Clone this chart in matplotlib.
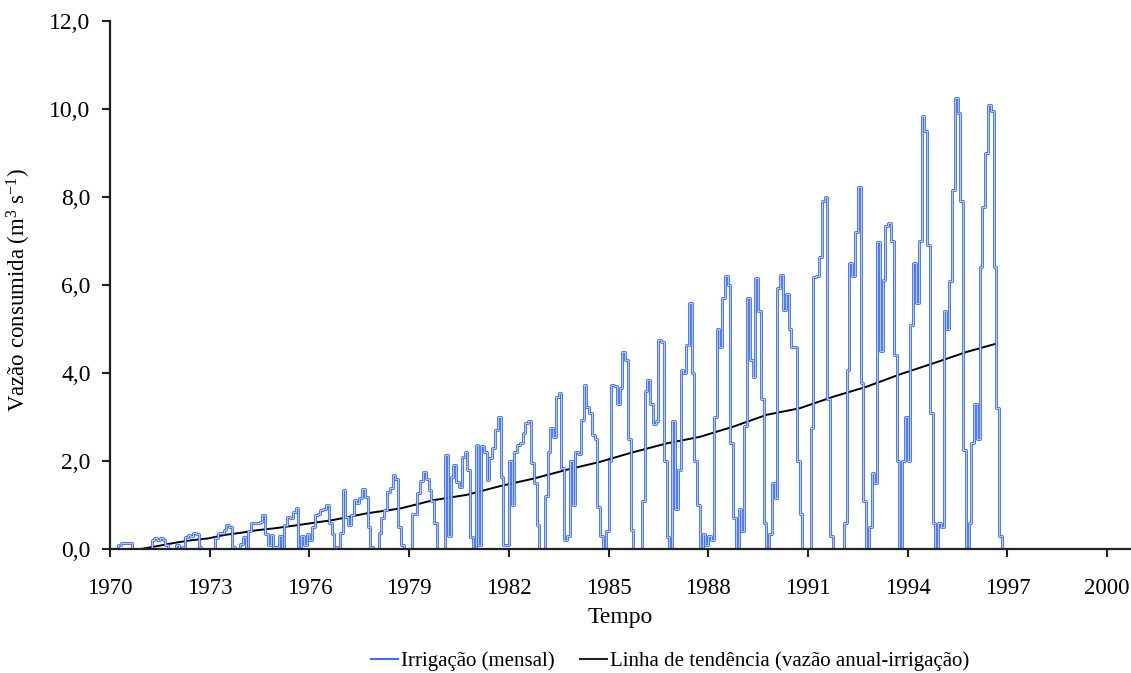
import numpy as np
import matplotlib
matplotlib.use("Agg")
import matplotlib.pyplot as plt
from matplotlib import patheffects as pe
from matplotlib.lines import Line2D

# monthly irrigation consumption (m3/s), Jan..Dec
irr_1970 = [0.0, 0.0, 0.0, 0.09, 0.14, 0.14, 0.14, 0.14, 0.0, 0.0, 0.0, 0.0]
irr_1971 = [0.0, 0.0, 0.0, 0.2, 0.24, 0.2, 0.26, 0.2, 0.09, 0.0, 0.0, 0.0]
irr_1972 = [0.08, 0.03, 0.05, 0.28, 0.32, 0.3, 0.36, 0.33, 0.05, 0.0, 0.0, 0.0]
irr_1973 = [0.0, 0.0, 0.24, 0.36, 0.37, 0.43, 0.55, 0.5, 0.05, 0.0, 0.0, 0.12]
irr_1974 = [0.28, 0.0, 0.4, 0.58, 0.58, 0.6, 0.62, 0.77, 0.35, 0.1, 0.32, 0.05]
irr_1975 = [0.05, 0.3, 0.0, 0.55, 0.73, 0.7, 0.85, 0.93, 0.0, 0.3, 0.1, 0.35]
irr_1976 = [0.2, 0.5, 0.77, 0.8, 0.89, 0.9, 1.0, 0.58, 0.35, 0.05, 0.0, 0.36]
irr_1977 = [1.34, 0.73, 0.55, 0.77, 1.11, 1.04, 1.15, 1.36, 1.19, 0.5, 0.05, 0.0]
irr_1978 = [0.0, 0.36, 0.7, 0.89, 1.3, 1.38, 1.68, 1.6, 0.5, 0.1, 0.0, 0.0]
irr_1979 = [0.0, 0.8, 0.8, 1.27, 1.55, 1.76, 1.6, 1.34, 1.1, 0.6, 0.0, 0.0]
irr_1980 = [0.0, 2.14, 0.3, 1.64, 1.9, 1.53, 1.42, 2.1, 2.2, 1.8, 0.28, 0.0]
irr_1981 = [2.36, 0.1, 2.33, 2.2, 1.57, 2.06, 2.29, 2.7, 3.0, 1.64, 0.1, 0.1]
irr_1982 = [2.0, 1.0, 2.2, 2.36, 2.4, 2.63, 2.86, 2.9, 1.95, 1.5, 0.55, 0.0]
irr_1983 = [0.0, 1.2, 2.2, 2.74, 2.55, 3.46, 3.54, 1.85, 0.2, 0.3, 2.0, 1.0]
irr_1984 = [2.2, 2.17, 2.93, 3.73, 3.23, 3.08, 2.6, 2.5, 0.96, 0.3, 0.0, 0.4]
irr_1985 = [2.0, 3.73, 3.7, 3.3, 3.65, 4.48, 4.3, 2.5, 0.43, 0.0, 0.0, 0.0]
irr_1986 = [1.1, 3.6, 3.84, 3.3, 2.85, 2.9, 4.75, 4.7, 2.0, 0.28, 0.0, 2.9]
irr_1987 = [0.9, 1.8, 4.07, 4.0, 4.64, 5.58, 4.0, 2.0, 1.0, 0.0, 0.35, 0.1]
irr_1988 = [0.3, 0.2, 3.0, 5.0, 4.6, 5.7, 6.2, 6.0, 2.4, 0.7, 0.0, 0.9]
irr_1989 = [0.4, 2.8, 5.7, 4.3, 3.9, 6.15, 5.4, 3.4, 0.6, 0.0, 0.33, 1.5]
irr_1990 = [1.15, 5.93, 6.23, 5.43, 5.8, 5.0, 4.6, 4.6, 2.0, 0.8, 0.0, 0.0]
irr_1991 = [0.0, 2.75, 6.19, 6.2, 6.64, 7.9, 8.0, 3.4, 0.3, 0.0, 0.0, 0.0]
irr_1992 = [0.0, 0.6, 4.07, 6.5, 6.2, 7.21, 8.23, 3.77, 1.1, 0.0, 0.5, 1.72]
irr_1993 = [1.5, 6.98, 4.5, 6.11, 7.33, 7.4, 7.0, 4.4, 2.0, 0.0, 2.0, 3.0]
irr_1994 = [2.0, 5.1, 6.5, 5.6, 7.0, 9.84, 9.5, 6.9, 3.1, 0.6, 0.0, 0.6]
irr_1995 = [0.5, 5.4, 5.0, 6.1, 8.16, 10.25, 9.9, 7.9, 2.25, 0.0, 0.6, 2.4]
irr_1996 = [3.3, 2.5, 6.42, 7.78, 9.0, 10.1, 9.95, 6.4, 3.2, 0.3, 0.0]

# trend line (annual flow - irrigation)
trend_t = [1970.93, 1971.45, 1971.95, 1972.45, 1972.95, 1973.45, 1973.95,
           1974.45, 1974.95, 1975.72, 1976.72, 1977.72, 1978.73, 1979.73,
           1980.73, 1981.74, 1982.74, 1983.74, 1984.74, 1985.74, 1986.75,
           1987.75, 1988.75, 1989.76, 1990.76, 1991.76, 1992.77, 1993.77,
           1994.77, 1995.78, 1996.68]
trend_v = [0.0, 0.07, 0.14, 0.2, 0.24, 0.32, 0.37, 0.43, 0.47, 0.55, 0.66,
           0.81, 0.92, 1.11, 1.23, 1.43, 1.6, 1.8, 1.98, 2.2, 2.4, 2.55, 2.78,
           3.05, 3.2, 3.46, 3.69, 3.97, 4.22, 4.48, 4.67]

x_ticks = list(range(1970, 2001, 3))
y_ticks = [0, 2, 4, 6, 8, 10, 12]

BLUE = "#3a6cff"

plt.rcParams["font.family"] = ["Liberation Serif", "DejaVu Serif"]
plt.rcParams["mathtext.fontset"] = "custom"
plt.rcParams["mathtext.rm"] = "Liberation Serif"
plt.rcParams["mathtext.it"] = "Liberation Serif:italic"
plt.rcParams["mathtext.default"] = "rm"

irr = np.concatenate([irr_1970, irr_1971, irr_1972, irr_1973, irr_1974,
                      irr_1975, irr_1976, irr_1977, irr_1978, irr_1979,
                      irr_1980, irr_1981, irr_1982, irr_1983, irr_1984,
                      irr_1985, irr_1986, irr_1987, irr_1988, irr_1989,
                      irr_1990, irr_1991, irr_1992, irr_1993, irr_1994,
                      irr_1995, irr_1996])
t = 1970 + np.arange(len(irr)) / 12.0

fig = plt.figure(figsize=(11.31, 6.73), dpi=100)
ax = fig.add_axes([110 / 1131, 124 / 673, 1021 / 1131, 528 / 673])

ax.plot(trend_t, trend_v, color="black", lw=1.4, zorder=1.5)
ax.plot(t, irr, drawstyle="steps-post", color="white", lw=0.45, zorder=2,
        path_effects=[pe.Stroke(linewidth=2.0, foreground=BLUE), pe.Normal()])

ax.set_xlim(1970, 2000.72)
ax.set_ylim(0, 12)
ax.set_xticks(x_ticks)
ax.set_yticks(y_ticks)
ax.set_yticklabels([f"{v:.1f}".replace(".", ",") for v in y_ticks])

for s in ["top", "right"]:
    ax.spines[s].set_visible(False)
for s in ["left", "bottom"]:
    ax.spines[s].set_linewidth(1.6)
    ax.spines[s].set_color("#222222")
    ax.spines[s].set_zorder(5)

ax.tick_params(axis="both", direction="out", length=6, width=1.5,
               color="#222222")
ax.tick_params(axis="x", pad=15, labelsize=16.5)
ax.tick_params(axis="y", pad=8, labelsize=17)

ax.set_xlabel("Tempo", fontsize=17, labelpad=6)
ax.set_ylabel("Vazão consumida (m$^{3}$ s$^{-1}$)", fontsize=16.5)
ax.yaxis.set_label_coords(-77 / 1021, 0.49)

handles = [Line2D([], [], color=BLUE, lw=1.5),
           Line2D([], [], color="#222222", lw=1.5)]
labels = ["Irrigação (mensal)", "Linha de tendência (vazão anual-irrigação)"]
fig.legend(handles, labels, loc="center", bbox_to_anchor=(670 / 1131, 1 - 661 / 673),
           ncol=2, frameon=False, fontsize=15, handlelength=1.3,
           handletextpad=0.15, columnspacing=1.2)

fig.savefig("out.png", dpi=100)
